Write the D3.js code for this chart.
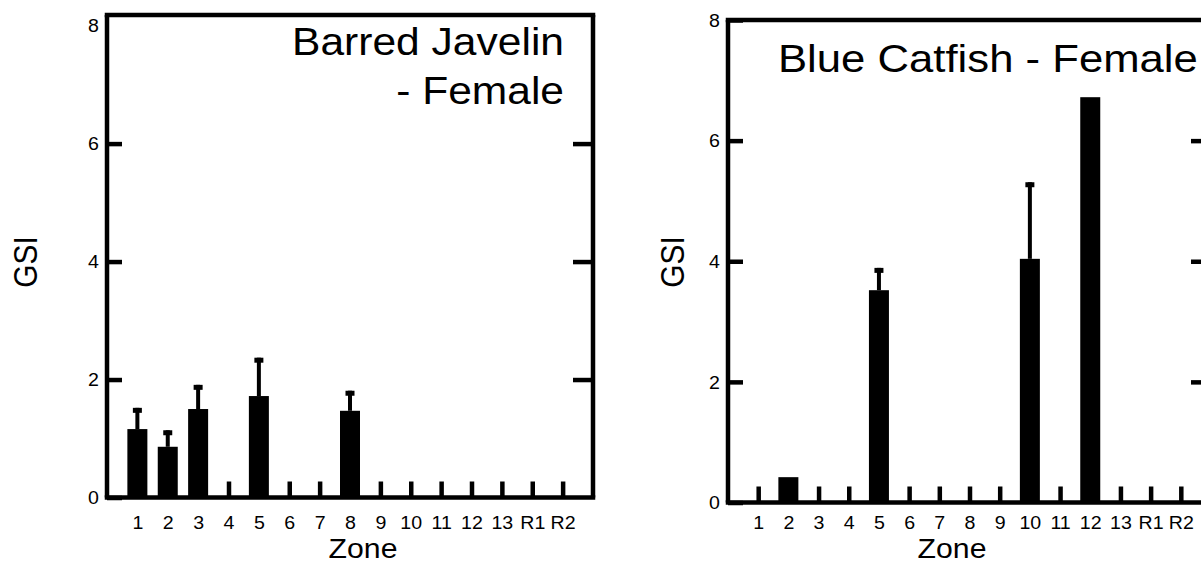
<!DOCTYPE html>
<html>
<head>
<meta charset="utf-8">
<script src="https://cdn.jsdelivr.net/npm/d3@7"></script>
<style>
  html, body { margin: 0; padding: 0; background: #fff; overflow: hidden; }
  svg { display: block; }
  text { font-family: "Liberation Sans", Arial, sans-serif; fill: #000; }
</style>
</head>
<body>
<svg id="chart" width="1201" height="566"></svg>
<script>
// Sampling zones along the x axis
const zones = ["1", "2", "3", "4", "5", "6", "7", "8", "9", "10", "11", "12", "13", "R1", "R2"];

// Mean gonadosomatic index per zone and its standard error
const javelinMean = [1.16, 0.86, 1.50, 0, 1.72, 0, 0, 1.47, 0, 0, 0, 0, 0, 0, 0];
const javelinSE   = [0.36, 0.28, 0.41, 0, 0.65, 0, 0, 0.34, 0, 0, 0, 0, 0, 0, 0];

const catfishMean = [0, 0.42, 0, 0, 3.52, 0, 0, 0, 0, 4.04, 0, 6.72, 0, 0, 0];
const catfishSE   = [0, 0, 0, 0, 0.37, 0, 0, 0, 0, 1.27, 0, 0, 0, 0, 0];

const yTicks = [0, 2, 4, 6, 8];

const svg = d3.select("#chart");
const SX = 1.12;     // horizontal stretch applied to all lettering
const LW = 4.5;      // frame / tick stroke width
const TICK_FONT = 17.5;

function label(g, x, y, str, size, anchor, rotate) {
  return g.append("text")
    .attr("transform", `translate(${x},${y}) scale(${SX},1)` + (rotate ? " rotate(-90)" : ""))
    .attr("text-anchor", anchor)
    .style("font-size", size + "px")
    .text(str);
}

function panel(cfg) {
  const g = svg.append("g");
  const x = d3.scalePoint().domain(zones).range([cfg.left, cfg.right]).padding(1);
  const y = d3.scaleLinear().domain([0, cfg.yMax]).range([cfg.base, cfg.top]);

  // Zone ticks rising from the baseline
  const xAxis = g.append("g")
    .attr("transform", `translate(0,${cfg.base})`)
    .call(d3.axisBottom(x).tickSize(-16).tickSizeOuter(0));
  xAxis.attr("font-size", null).attr("font-family", null);
  xAxis.select(".domain").remove();
  xAxis.selectAll(".tick line").attr("stroke", "#000").attr("stroke-width", LW);
  xAxis.selectAll(".tick text")
    .attr("y", 529 - cfg.base).attr("dy", 0)
    .attr("transform", `scale(${SX},1)`)
    .style("font-size", TICK_FONT + "px")
    .attr("fill", "#000");

  // Left value axis
  const yAxis = g.append("g")
    .attr("transform", `translate(${cfg.left},0)`)
    .call(d3.axisLeft(y).tickValues(yTicks).tickSize(-15).tickSizeOuter(0).tickFormat(d3.format("d")));
  yAxis.attr("font-size", null).attr("font-family", null);
  yAxis.select(".domain").remove();
  yAxis.selectAll(".tick line")
    .attr("stroke", "#000").attr("stroke-width", LW)
    .attr("display", d => (d === 8 && cfg.yMax > 8) ? "none" : null);
  yAxis.selectAll(".tick text")
    .attr("x", -8 / SX).attr("dy", "0.36em")
    .attr("transform", `scale(${SX},1)`)
    .style("font-size", TICK_FONT + "px")
    .attr("fill", "#000");

  // Mirrored ticks on the right side of the frame
  const yAxisR = g.append("g")
    .attr("transform", `translate(${cfg.right},0)`)
    .call(d3.axisRight(y).tickValues([2, 4, 6]).tickSize(-20).tickSizeOuter(0).tickFormat(""));
  yAxisR.select(".domain").remove();
  yAxisR.selectAll(".tick line").attr("stroke", "#000").attr("stroke-width", LW);

  // Bars
  const rows = zones.map((z, i) => ({ z, m: cfg.mean[i], se: cfg.se[i] })).filter(d => d.m > 0);
  const bw = 20;
  g.selectAll("rect.bar").data(rows).join("rect")
    .attr("class", "bar")
    .attr("x", d => x(d.z) - bw / 2)
    .attr("width", bw)
    .attr("y", d => y(d.m))
    .attr("height", d => y(0) - y(d.m))
    .attr("fill", "#000");

  // Error bars (upper half only) with a small cap
  const errs = rows.filter(d => d.se > 0);
  g.selectAll("line.err").data(errs).join("line")
    .attr("class", "err")
    .attr("x1", d => x(d.z)).attr("x2", d => x(d.z))
    .attr("y1", d => y(d.m)).attr("y2", d => y(d.m + d.se))
    .attr("stroke", "#000").attr("stroke-width", 4);
  g.selectAll("rect.cap").data(errs).join("rect")
    .attr("class", "cap")
    .attr("x", d => x(d.z) - 4.5).attr("width", 9)
    .attr("y", d => y(d.m + d.se)).attr("height", 5)
    .attr("fill", "#000");

  // Frame
  const f = g.append("g").attr("stroke", "#000").attr("stroke-width", LW).attr("fill", "none");
  f.append("line").attr("x1", cfg.left).attr("x2", cfg.left).attr("y1", cfg.top).attr("y2", cfg.base);
  f.append("line").attr("x1", cfg.right).attr("x2", cfg.right).attr("y1", cfg.top).attr("y2", cfg.base);
  f.append("line").attr("x1", cfg.left - LW / 2).attr("x2", cfg.right + LW / 2).attr("y1", cfg.top).attr("y2", cfg.top);
  f.append("line").attr("x1", cfg.left - LW / 2).attr("x2", cfg.right + LW / 2).attr("y1", cfg.base).attr("y2", cfg.base);

  // Axis titles
  label(g, cfg.zoneX, 558, "Zone", 27, "middle");
  label(g, cfg.gsiX, 262, "GSI", 30, "middle", true);

  // Panel title
  cfg.title.forEach(t => label(g, t.x, t.y, t.text, cfg.titleSize, t.anchor));
}

panel({
  left: 107, right: 593, top: 15, base: 497.5, yMax: 8.18,
  mean: javelinMean, se: javelinSE,
  zoneX: 363, gsiX: 37, titleSize: 38,
  title: [
    { text: "Barred Javelin", x: 564, y: 55, anchor: "end" },
    { text: "- Female", x: 564, y: 104, anchor: "end" }
  ]
});

panel({
  left: 728, right: 1211, top: 20, base: 502.5, yMax: 8,
  mean: catfishMean, se: catfishSE,
  zoneX: 952, gsiX: 684, titleSize: 39,
  title: [
    { text: "Blue Catfish - Female", x: 778, y: 72, anchor: "start" }
  ]
});
</script>
</body>
</html>
